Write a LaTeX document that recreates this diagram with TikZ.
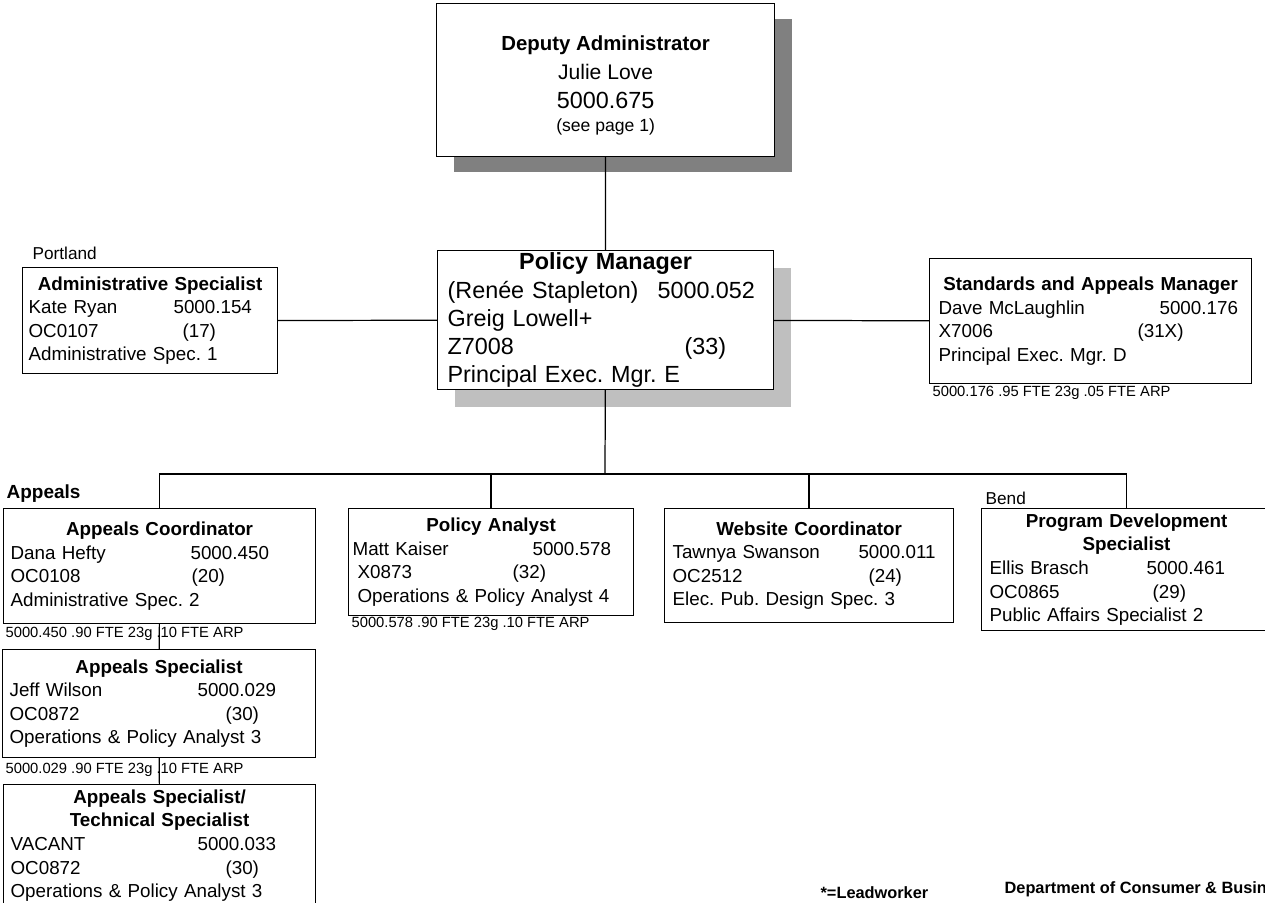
\documentclass[tikz,border=0pt]{standalone}
\usepackage{fontspec}
\setmainfont{Liberation Sans}
\usepackage{tikz}
\usetikzlibrary{shadows}

\newcommand{\orgline}[3]{\makebox[#1][l]{#2}#3}
\newcommand{\orgtitle}[1]{\makebox[\linewidth]{\textbf{#1}}}

\begin{document}
\frenchspacing
\begin{tikzpicture}
	[x=0.02cm,y=-0.02cm,line width=0.7pt,
	 every node/.style={inner sep=0pt},
	 orgbox/.style={draw,rectangle,fill=white,anchor=north west,align=left,inner xsep=0.14cm,inner ysep=0pt,font=\fontsize{10.7}{13.4}\selectfont},
	 ftenote/.style={anchor=west,font=\fontsize{8.4}{10}\selectfont},
	 place/.style={anchor=west,font=\fontsize{9.8}{12}\selectfont}]
	\path[use as bounding box,fill=white] (0,0) rectangle (1265,903);

	\node[draw,fill=white,anchor=north west,minimum width=6.76cm,minimum height=3.06cm,align=center,font=\fontsize{12}{16.2}\selectfont,drop shadow={shadow xshift=0.34cm,shadow yshift=-0.31cm,fill=black!50,opacity=1}] (dep) at (436,3)
		{\rule{0pt}{14.5pt}\textbf{\fontsize{11.6}{16}\selectfont Deputy Administrator}\\ Julie Love\\[0.5pt] {\fontsize{13.3}{16}\selectfont 5000.675}\\[-3.5pt] {\fontsize{10}{12}\selectfont (see page 1)}};
	\node[orgbox,inner xsep=0.2cm,text width=6.32cm,minimum height=2.78cm,font=\fontsize{13.3}{16}\selectfont,drop shadow={shadow xshift=0.34cm,shadow yshift=-0.34cm,fill=black!25,opacity=1}] (pm) at (437,250)
		{\orgtitle{Policy Manager}\\ \orgline{4.2cm}{(Renée Stapleton)}{5000.052}\\ Greig Lowell+\\ \orgline{4.74cm}{Z7008}{(33)}\\ Principal Exec. Mgr. E};
	\node[orgbox,inner xsep=0.12cm,text width=4.86cm,minimum height=2.12cm] (adm) at (22,267)
		{\orgtitle{Administrative Specialist}\\ \orgline{2.9cm}{Kate Ryan}{5000.154}\\ \orgline{3.08cm}{OC0107}{(17)}\\ Administrative Spec. 1};
	\node[orgbox,inner xsep=0.18cm,text width=6.08cm,minimum height=2.5cm] (std) at (929,258)
		{\orgtitle{Standards and Appeals Manager}\\ \orgline{4.42cm}{Dave McLaughlin}{5000.176}\\ \orgline{3.98cm}{X7006}{(31X)}\\ Principal Exec. Mgr. D};

	\node[orgbox,text width=5.96cm,minimum height=2.3cm] (apc) at (3,508)
		{\orgtitle{Appeals Coordinator}\\ \orgline{3.6cm}{Dana Hefty}{5000.450}\\ \orgline{3.62cm}{OC0108}{(20)}\\ Administrative Spec. 2};
	\node[orgbox,text width=5.98cm,minimum height=2.16cm] (aps) at (2,649)
		{\orgtitle{Appeals Specialist}\\ \orgline{3.76cm}{Jeff Wilson}{5000.029}\\ \orgline{4.32cm}{OC0872}{(30)}\\ Operations \& Policy Analyst 3};
	\node[orgbox,text width=5.96cm,minimum height=2.44cm] (tec) at (3,784)
		{\orgtitle{Appeals Specialist/}\\ \orgtitle{Technical Specialist}\\ \orgline{3.74cm}{VACANT}{5000.033}\\ \orgline{4.3cm}{OC0872}{(30)}\\ Operations \& Policy Analyst 3};
	\node[orgbox,inner xsep=0.08cm,text width=5.54cm,minimum height=2.14cm] (pa) at (348,508)
		{\orgtitle{Policy Analyst}\\ \orgline{3.6cm}{Matt Kaiser}{5000.578}\\ \hspace*{0.1cm}\orgline{3.1cm}{X0873}{(32)}\\ \hspace*{0.1cm}Operations \& Policy Analyst 4};
	\node[orgbox,inner xsep=0.16cm,text width=5.46cm,minimum height=2.28cm] (web) at (664,508)
		{\orgtitle{Website Coordinator}\\ \orgline{3.72cm}{Tawnya Swanson}{5000.011}\\ \orgline{3.92cm}{OC2512}{(24)}\\ Elec. Pub. Design Spec. 3};
	\node[orgbox,inner xsep=0.16cm,text width=5.48cm,minimum height=2.44cm] (pds) at (981,508)
		{\orgtitle{Program Development}\\ \orgtitle{Specialist}\\ \orgline{3.14cm}{Ellis Brasch}{5000.461}\\ \orgline{3.26cm}{OC0865}{(29)}\\ Public Affairs Specialist 2};

	% places and notes
	\node[place] (portland) at (32,253) {Portland};
	\node[place,font=\bfseries\fontsize{10.8}{12}\selectfont] (appeals) at (6,494) {Appeals};
	\node[place] (bend) at (985,498) {Bend};
	\node[ftenote] (stdfte) at (932,393) {5000.176 .95 FTE 23g .05 FTE ARP};
	\node[ftenote] (apcfte) at (5,634) {5000.450 .90 FTE 23g .10 FTE ARP};
	\node[ftenote] (apsfte) at (5,770) {5000.029 .90 FTE 23g .10 FTE ARP};
	\node[ftenote] (pafte) at (351,624) {5000.578 .90 FTE 23g .10 FTE ARP};
	\node[place,font=\bfseries\fontsize{9.3}{11}\selectfont] (lead) at (820,893) {*=Leadworker};
	\node[place,font=\bfseries\fontsize{9.3}{11}\selectfont] (dept) at (1004,889) {Department of Consumer \& Business Services};

	\coordinate (bus) at (605,474);
	\draw (dep) -- (pm);
	\draw (adm) -- (pm);
	\draw (pm) -- (std);
	\draw (pm) -- (bus);
	\foreach \to in {apc,pa,web,pds}
	\draw (bus) -| (\to.north);
	\draw (apc) -- (aps);
	\draw (aps) -- (tec);
\end{tikzpicture}
\end{document}
